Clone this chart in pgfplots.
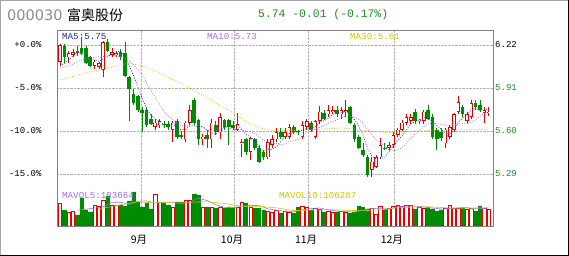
\documentclass[border=0pt]{standalone}
\usepackage{pgfplots}
\pgfplotsset{compat=1.18}
\usepackage{pgfplotstable}
\usepackage{fontspec}
\setmainfont{Liberation Sans}
\newfontfamily\mono{Liberation Mono}
\newfontfamily\cjk{Noto Sans CJK SC}
\newfontfamily\dv{DejaVu Sans}
\definecolor{kred}{RGB}{230,0,0}
\definecolor{kgreen}{RGB}{0,140,0}
\definecolor{ma5c}{RGB}{30,50,150}
\definecolor{ma10c}{RGB}{160,110,240}
\definecolor{ma30c}{RGB}{205,200,0}
\definecolor{txtgreen}{RGB}{30,140,30}

\pgfplotstableread{
i o h l c v
0 6.10 6.23 6.07 6.22 133400
2 6.13 6.18 6.09 6.16 81200
3 6.15 6.19 6.13 6.17 87000
8 6.07 6.11 6.05 6.10 121800
9 6.06 6.10 6.05 6.09 116000
10 6.04 6.25 5.99 6.24 150800
12 6.15 6.20 6.13 6.17 121800
13 6.15 6.18 6.13 6.16 121800
22 5.63 5.69 5.61 5.66 185600
23 5.64 5.69 5.62 5.67 139200
26 5.61 5.67 5.52 5.66 110200
29 5.54 5.67 5.52 5.66 150800
30 5.66 5.79 5.64 5.75 150800
33 5.54 5.58 5.50 5.56 110200
35 5.54 5.69 5.48 5.66 110200
37 5.59 5.73 5.54 5.70 110200
41 5.61 5.73 5.60 5.65 110200
42 5.51 5.54 5.41 5.52 139200
44 5.45 5.56 5.39 5.55 110200
48 5.41 5.54 5.40 5.52 87000
49 5.50 5.57 5.48 5.54 81200
50 5.54 5.62 5.52 5.59 92800
52 5.56 5.62 5.54 5.59 87000
53 5.56 5.65 5.54 5.63 81200
56 5.56 5.67 5.54 5.64 116000
57 5.63 5.69 5.61 5.67 110200
59 5.56 5.68 5.54 5.67 104400
60 5.67 5.78 5.65 5.74 98600
62 5.72 5.79 5.70 5.75 87000
63 5.74 5.78 5.72 5.75 81200
65 5.72 5.77 5.69 5.75 87000
66 5.74 5.82 5.70 5.75 81200
72 5.32 5.41 5.27 5.38 104400
73 5.34 5.43 5.33 5.41 69600
74 5.41 5.55 5.40 5.50 116000
76 5.48 5.52 5.46 5.50 104400
77 5.50 5.59 5.48 5.57 116000
78 5.57 5.62 5.56 5.61 121800
79 5.61 5.68 5.60 5.66 116000
80 5.66 5.72 5.64 5.70 121800
81 5.67 5.72 5.65 5.70 121800
83 5.67 5.69 5.65 5.68 110200
84 5.67 5.75 5.65 5.74 104400
89 5.51 5.62 5.48 5.61 104400
90 5.56 5.64 5.54 5.63 121800
91 5.61 5.73 5.59 5.72 104400
92 5.74 5.85 5.72 5.81 104400
94 5.67 5.74 5.65 5.72 98600
95 5.70 5.82 5.69 5.80 104400
98 5.73 5.77 5.66 5.75 104400
99 5.73 5.77 5.71 5.74 98600
}\upT

\pgfplotstableread{
i o h l c v
1 6.21 6.23 6.09 6.13 92800
4 6.18 6.21 6.14 6.16 63800
5 6.20 6.28 6.15 6.16 162400
6 6.20 6.21 6.08 6.09 92800
7 6.13 6.14 6.06 6.07 81200
11 6.24 6.26 6.17 6.18 174000
14 6.17 6.19 6.11 6.13 121800
15 6.16 6.24 5.99 6.00 116000
16 5.99 6.00 5.67 5.90 145000
17 5.87 5.90 5.79 5.80 197200
18 5.85 5.86 5.74 5.75 139200
19 5.75 5.77 5.59 5.73 110200
20 5.75 5.77 5.63 5.64 133400
21 5.69 5.72 5.64 5.65 98600
24 5.65 5.67 5.62 5.64 133400
25 5.65 5.67 5.61 5.63 121800
27 5.67 5.69 5.54 5.56 139200
28 5.57 5.60 5.54 5.56 139200
31 5.82 5.84 5.64 5.66 185600
32 5.68 5.69 5.50 5.54 179800
34 5.57 5.61 5.48 5.54 110200
36 5.64 5.67 5.57 5.59 104400
38 5.68 5.69 5.61 5.63 104400
39 5.68 5.69 5.50 5.63 110200
40 5.64 5.67 5.61 5.62 104400
43 5.54 5.55 5.43 5.45 133400
45 5.54 5.55 5.46 5.48 104400
46 5.48 5.50 5.37 5.38 104400
47 5.45 5.46 5.39 5.41 92800
51 5.59 5.62 5.54 5.56 75400
54 5.63 5.64 5.58 5.59 75400
55 5.60 5.61 5.57 5.59 110200
58 5.66 5.67 5.59 5.61 92800
61 5.73 5.75 5.68 5.69 81200
64 5.75 5.78 5.70 5.72 81200
67 5.77 5.78 5.65 5.66 75400
68 5.64 5.66 5.52 5.54 81200
69 5.56 5.57 5.47 5.48 116000
70 5.46 5.51 5.41 5.43 110200
71 5.41 5.43 5.27 5.28 98600
75 5.48 5.51 5.46 5.47 98600
82 5.74 5.76 5.65 5.67 98600
85 5.75 5.79 5.68 5.69 110200
86 5.70 5.72 5.54 5.56 98600
87 5.61 5.62 5.46 5.54 87000
88 5.59 5.62 5.53 5.55 92800
93 5.77 5.79 5.70 5.72 104400
96 5.80 5.82 5.75 5.77 87000
97 5.79 5.82 5.74 5.75 116000
}\dnT

\pgfplotstableread{
i ma5 ma10
0 6.069 6.054
1 6.083 6.061
2 6.112 6.069
3 6.141 6.083
4 6.168 6.097
5 6.157 6.112
6 6.148 6.119
7 6.129 6.126
8 6.115 6.133
9 6.102 6.135
10 6.118 6.137
11 6.136 6.142
12 6.157 6.143
13 6.168 6.141
14 6.177 6.139
15 6.129 6.123
16 6.071 6.104
17 5.998 6.077
18 5.917 6.043
19 5.836 6.007
20 5.764 5.947
21 5.715 5.893
22 5.686 5.842
23 5.669 5.793
24 5.650 5.743
25 5.649 5.707
26 5.650 5.683
27 5.630 5.658
28 5.609 5.639
29 5.613 5.632
30 5.636 5.643
31 5.636 5.643
32 5.632 5.631
33 5.632 5.620
34 5.607 5.610
35 5.588 5.612
36 5.574 5.605
37 5.607 5.619
38 5.622 5.627
39 5.640 5.624
40 5.633 5.611
41 5.646 5.610
42 5.610 5.609
43 5.574 5.598
44 5.558 5.599
45 5.531 5.582
46 5.476 5.561
47 5.454 5.532
48 5.469 5.521
49 5.466 5.512
50 5.488 5.509
51 5.524 5.500
52 5.560 5.507
53 5.581 5.525
54 5.593 5.529
55 5.591 5.539
56 5.609 5.566
57 5.623 5.591
58 5.619 5.600
59 5.633 5.613
60 5.663 5.627
61 5.674 5.641
62 5.691 5.657
63 5.720 5.669
64 5.730 5.681
65 5.733 5.698
66 5.744 5.709
67 5.725 5.708
68 5.682 5.701
69 5.636 5.683
70 5.571 5.652
71 5.477 5.611
72 5.421 5.573
73 5.397 5.539
74 5.400 5.518
75 5.410 5.490
76 5.453 5.465
77 5.492 5.457
78 5.531 5.464
79 5.563 5.481
80 5.607 5.508
81 5.648 5.550
82 5.666 5.579
83 5.681 5.606
84 5.697 5.630
85 5.695 5.651
86 5.666 5.657
87 5.640 5.653
88 5.614 5.648
89 5.588 5.643
90 5.575 5.635
91 5.607 5.637
92 5.662 5.651
93 5.695 5.655
94 5.717 5.653
95 5.751 5.663
96 5.762 5.684
97 5.750 5.706
98 5.757 5.726
99 5.752 5.730
}\maT

\pgfplotstableread{
i ma30
0 5.968
5 6.011
10 6.047
13 6.069
16 6.090
19 6.069
23 6.018
30 5.910
36 5.802
40 5.730
44 5.650
47 5.614
50 5.600
57 5.607
65 5.622
70 5.607
74 5.593
78 5.586
82 5.600
88 5.607
94 5.611
99 5.610
}\mathirtyT

\pgfplotstableread{
i mv5
4 91640
6 97440
8 104400
10 112520
12 136880
14 138040
16 125280
18 143840
20 145000
22 133400
24 138040
26 138040
28 128760
30 138040
32 161240
34 147320
36 122960
38 107880
40 106720
42 113680
44 119480
46 118320
48 99760
50 91640
52 84680
54 82360
56 93960
58 100920
60 104400
62 92800
64 85840
66 83520
68 81200
70 92800
72 102080
74 99760
76 98600
78 111360
80 116000
82 116000
84 111360
86 104400
88 98600
90 100920
92 105560
94 106720
96 99760
98 102080
99 103664
}\mvfiveT

\pgfplotstableread{
i mv10
9 101500
10 103820
14 122960
18 140360
22 133980
26 138620
30 138040
34 140360
38 131080
42 114260
46 114260
50 104980
54 89320
58 92220
62 95120
66 91060
70 88740
74 93380
78 106140
82 110200
86 110200
90 104400
94 103240
99 106287
}\mvtenT

\pgfplotsset{
  candle/.style 2 args={draw=none, mark=none, forget plot,
    error bars/.cd, y dir=plus, y explicit, error mark=none,
    error bar style={draw=#1, line width=#2, solid}},
  maline/.style={#1, line width=0.7pt, mark=none, dash pattern=on 0.9pt off 1.6pt},
}

\begin{document}
\begin{tikzpicture}
\path[use as bounding box] (0pt,0pt) rectangle (569pt,256pt);
\draw[black!35, line width=0.8pt] (0.4pt,255.6pt) -- (0.4pt,0.4pt);
\draw[black!35, line width=0.8pt] (0.4pt,255.6pt) -- (568.6pt,255.6pt);
\draw[black, line width=1.2pt] (0pt,0.8pt) -- (568.4pt,0.8pt) -- (568.4pt,256pt);

\node[anchor=west, inner sep=0pt, text=black!45] at (7pt,241pt) {\dv\fontsize{14.5}{14.5}\selectfont 000030};
\node[anchor=west, inner sep=0pt] at (67pt,241pt) {\cjk\fontsize{14}{14}\selectfont 富奥股份};
\node[anchor=west, inner sep=0pt, text=txtgreen] at (258pt,241pt) {\mono\fontsize{11.4}{11.4}\selectfont 5.74 -0.01 (-0.17\%)};

\begin{axis}[
  at={(57pt,30pt)}, anchor=south west,
  width=436pt, height=196pt, scale only axis,
  xmin=-0.69, xmax=100, ymin=4.9151, ymax=6.3281,
  axis line style={draw=black!50, line width=0.6pt},
  xtick={18.7,40.2,57.3,77.1},
  xticklabels={9月,10月,11月,12月},
  xticklabel style={font=\cjk\fontsize{10.5}{10.5}\selectfont, anchor=center, yshift=-14pt, xshift=-2pt},
  ytick={6.22,5.91,5.60,5.29},
  yticklabels={+0.0\%,-5.0\%,-10.0\%,-15.0\%},
  yticklabel style={font=\mono\fontsize{9}{9}\selectfont, anchor=east, xshift=-12pt},
  major tick length=0pt,
  grid=major,
  major grid style={densely dotted, black!30, line width=0.6pt},
  clip=false,
]
% wicks
\addplot[candle={kred}{0.8pt}] table[x=i, y=l, y error expr=\thisrow{h}-\thisrow{l}] {\upT};
\addplot[candle={kgreen}{0.8pt}] table[x=i, y=l, y error expr=\thisrow{h}-\thisrow{l}] {\dnT};
% red hollow bodies
\addplot[candle={kred}{3.6pt}] table[x=i, y=o, y error expr=\thisrow{c}-\thisrow{o}] {\upT};
\addplot[candle={white}{2.0pt}] table[x=i, y expr=\thisrow{o}+0.0058, y error expr=\thisrow{c}-\thisrow{o}-0.0116] {\upT};
% green filled bodies
\addplot[candle={kgreen}{3.6pt}] table[x=i, y=c, y error expr=\thisrow{o}-\thisrow{c}] {\dnT};
% moving averages
\addplot[maline=ma30c] table[x=i, y=ma30] {\mathirtyT};
\addplot[maline=ma10c] table[x=i, y=ma10] {\maT};
\addplot[maline=ma5c] table[x=i, y=ma5] {\maT};

\node[anchor=west, inner sep=2pt, font=\mono\fontsize{9}{9}\selectfont] at (axis cs:100,6.22) {6.22};
\node[anchor=west, inner sep=2pt, font=\mono\fontsize{9}{9}\selectfont, text=txtgreen] at (axis cs:100,5.91) {5.91};
\node[anchor=west, inner sep=2pt, font=\mono\fontsize{9}{9}\selectfont, text=txtgreen] at (axis cs:100,5.60) {5.60};
\node[anchor=west, inner sep=2pt, font=\mono\fontsize{9}{9}\selectfont, text=txtgreen] at (axis cs:100,5.29) {5.29};
\end{axis}

\begin{axis}[
  at={(57pt,30pt)}, anchor=south west,
  width=436pt, height=36pt, scale only axis,
  xmin=-0.69, xmax=100, ymin=0, ymax=208800,
  hide axis,
]
\addplot[ybar, bar width=3.3pt, bar shift=0pt, draw=kred, fill=white, line width=0.7pt] table[x=i, y=v] {\upT};
\addplot[ybar, bar width=3.3pt, bar shift=0pt, draw=kgreen, fill=kgreen, line width=0.7pt] table[x=i, y=v] {\dnT};
\addplot[ma10c, line width=0.6pt, mark=none] table[x=i, y=mv5] {\mvfiveT};
\addplot[ma30c, line width=0.6pt, mark=none] table[x=i, y=mv10] {\mvtenT};
\end{axis}

\node[anchor=west, inner sep=0pt, text=ma5c] at (62pt,219.5pt) {\mono\fontsize{9.2}{9.2}\selectfont MA5:5.75};
\node[anchor=west, inner sep=0pt, text=ma10c] at (207pt,219.5pt) {\mono\fontsize{9.2}{9.2}\selectfont MA10:5.73};
\node[anchor=west, inner sep=0pt, text=ma30c] at (350pt,219.5pt) {\mono\fontsize{9.2}{9.2}\selectfont MA30:5.61};
\node[anchor=west, inner sep=0pt, text=ma10c] at (62pt,61pt) {\mono\fontsize{9.2}{9.2}\selectfont MAVOL5:103664};
\node[anchor=west, inner sep=0pt, text=ma30c] at (279pt,61pt) {\mono\fontsize{9.2}{9.2}\selectfont MAVOL10:106287};
\end{tikzpicture}
\end{document}
